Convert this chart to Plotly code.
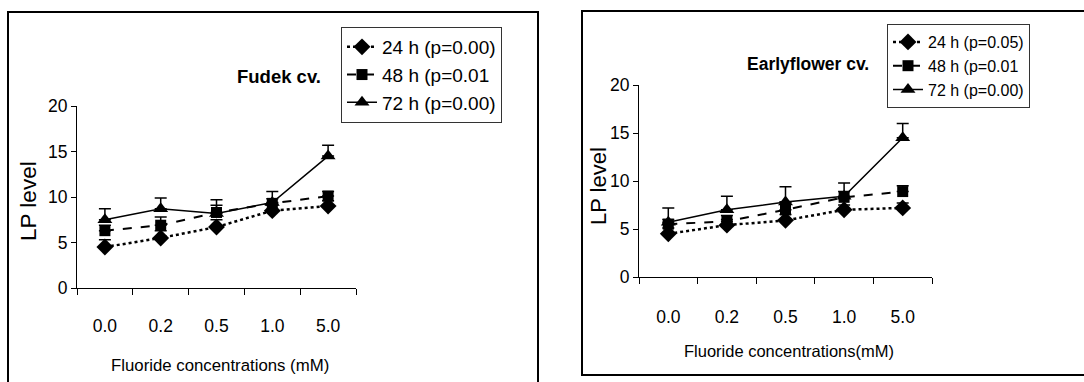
import plotly.graph_objects as go

W, H = 1084, 382
categories = ["0.0", "0.2", "0.5", "1.0", "5.0"]

# Fudek cv. (left)
fudek_24 = [4.5, 5.5, 6.7, 8.5, 9.0]
fudek_48 = [6.3, 6.9, 8.3, 9.3, 10.1]
fudek_72 = [7.5, 8.7, 8.2, 9.4, 14.5]
fudek_24_err = [0.8, 0.8, 0.8, 0.6, 0.6]
fudek_48_err = [0.6, 0.9, 0.8, 0.5, 0.5]
fudek_72_err = [1.2, 1.2, 1.5, 1.2, 1.2]

# Earlyflower cv. (right)
early_24 = [4.5, 5.4, 5.9, 7.0, 7.2]
early_48 = [5.5, 5.8, 7.0, 8.3, 8.9]
early_72 = [5.7, 7.0, 7.8, 8.4, 14.5]
early_24_err = [0.6, 0.6, 0.6, 0.5, 0.5]
early_48_err = [0.5, 0.6, 0.8, 0.6, 0.6]
early_72_err = [1.5, 1.4, 1.6, 1.4, 1.5]

names_left = ["24 h (p=0.00)", "48 h (p=0.01", "72 h (p=0.00)"]
names_right = ["24 h (p=0.05)", "48 h (p=0.01", "72 h (p=0.00)"]

FONT = "Liberation Sans, Arial, sans-serif"

styles = [
    dict(dash="dot", width=2.5, symbol="diamond", msize=13),
    dict(dash="dash", width=2, symbol="square", msize=11),
    dict(dash="solid", width=1.5, symbol="triangle-up", msize=13),
]

fig = go.Figure()


def add_series(values, errs, names, xa, ya, legend):
    for v, e, n, s in zip(values, errs, names, styles):
        fig.add_trace(go.Scatter(
            x=categories, y=v, name=n, mode="lines+markers",
            xaxis=xa, yaxis=ya, legend=legend,
            line=dict(color="black", dash=s["dash"], width=s["width"]),
            marker=dict(symbol=s["symbol"], size=s["msize"], color="black"),
            error_y=dict(type="data", symmetric=False, array=e,
                         arrayminus=[0] * len(e), color="black",
                         thickness=1.5, width=6),
        ))


add_series([fudek_24, fudek_48, fudek_72],
           [fudek_24_err, fudek_48_err, fudek_72_err],
           names_left, "x", "y", "legend")
add_series([early_24, early_48, early_72],
           [early_24_err, early_48_err, early_72_err],
           names_right, "x2", "y2", "legend2")


def px_x(p):
    return p / W


def px_y(p):
    return 1 - p / H


xaxis_common = dict(type="category", range=[-0.5, 4.5], showline=True,
                    linecolor="black", linewidth=1, ticks="outside",
                    tickson="boundaries", ticklen=6, tickcolor="black",
                    showgrid=False, zeroline=False, automargin=False,
                    tickfont=dict(family=FONT, size=17.5, color="black"))
yaxis_common = dict(range=[0, 20], dtick=5, showline=True, linecolor="black",
                    linewidth=1, ticks="outside", ticklen=5, tickcolor="black",
                    showgrid=False, zeroline=False, automargin=False,
                    tickfont=dict(family=FONT, size=17.5, color="black"))


def ann(text, x, y, size, angle=0):
    return dict(text=text, x=px_x(x), y=px_y(y), xref="paper", yref="paper",
                xanchor="center", yanchor="middle",
                showarrow=False, textangle=angle,
                font=dict(family=FONT, size=size, color="black"))


fig.update_layout(
    width=W, height=H,
    margin=dict(l=0, r=0, t=0, b=0, pad=0, autoexpand=False),
    paper_bgcolor="white", plot_bgcolor="white",
    font=dict(family=FONT, color="black"),
    xaxis=dict(domain=[px_x(77), px_x(356)], anchor="y",
               ticklabelstandoff=22, **xaxis_common),
    yaxis=dict(domain=[px_y(288), px_y(106)], anchor="x", **yaxis_common),
    xaxis2=dict(domain=[px_x(639), px_x(932)], anchor="y2",
                ticklabelstandoff=24, **xaxis_common),
    yaxis2=dict(domain=[px_y(277), px_y(85)], anchor="x2", **yaxis_common),
    legend=dict(x=px_x(341), y=px_y(27), xanchor="left", yanchor="top",
                bgcolor="white", bordercolor="#333", borderwidth=1,
                font=dict(family=FONT, size=19), tracegroupgap=0,
                itemwidth=30),
    legend2=dict(x=px_x(887), y=px_y(24), xanchor="left", yanchor="top",
                 bgcolor="white", bordercolor="#333", borderwidth=1,
                 font=dict(family=FONT, size=16), tracegroupgap=0,
                 itemwidth=30),
    showlegend=True,
    annotations=[
        ann("<b>Fudek cv.</b>", 279, 77, 18.5),
        ann("<b>Earlyflower cv.</b>", 808, 64, 17.5),
        ann("Fluoride concentrations (mM)", 220, 365, 16.8),
        ann("Fluoride concentrations(mM)", 789, 351, 16.5),
        ann("LP level", 28, 201, 22.5, -90),
        ann("LP level", 598, 186, 22, -90),
    ],
    shapes=[
        dict(type="rect", xref="paper", yref="paper", x0=px_x(8), x1=px_x(538),
             y0=px_y(395), y1=px_y(12), line=dict(color="black", width=2)),
        dict(type="rect", xref="paper", yref="paper", x0=px_x(582),
             x1=px_x(1095), y0=px_y(375), y1=px_y(11),
             line=dict(color="black", width=2)),
    ],
)

post = (
    "document.documentElement.style.margin='0';"
    "document.documentElement.style.overflow='hidden';"
    "document.body.style.margin='0';"
    "document.body.style.overflow='hidden';"
    "var gd=document.getElementById('{plot_id}');"
    "gd.style.position='fixed';gd.style.left='0px';gd.style.top='0px';"
)

fig.write_html("out.html", config={"displayModeBar": False},
               post_script=post)
